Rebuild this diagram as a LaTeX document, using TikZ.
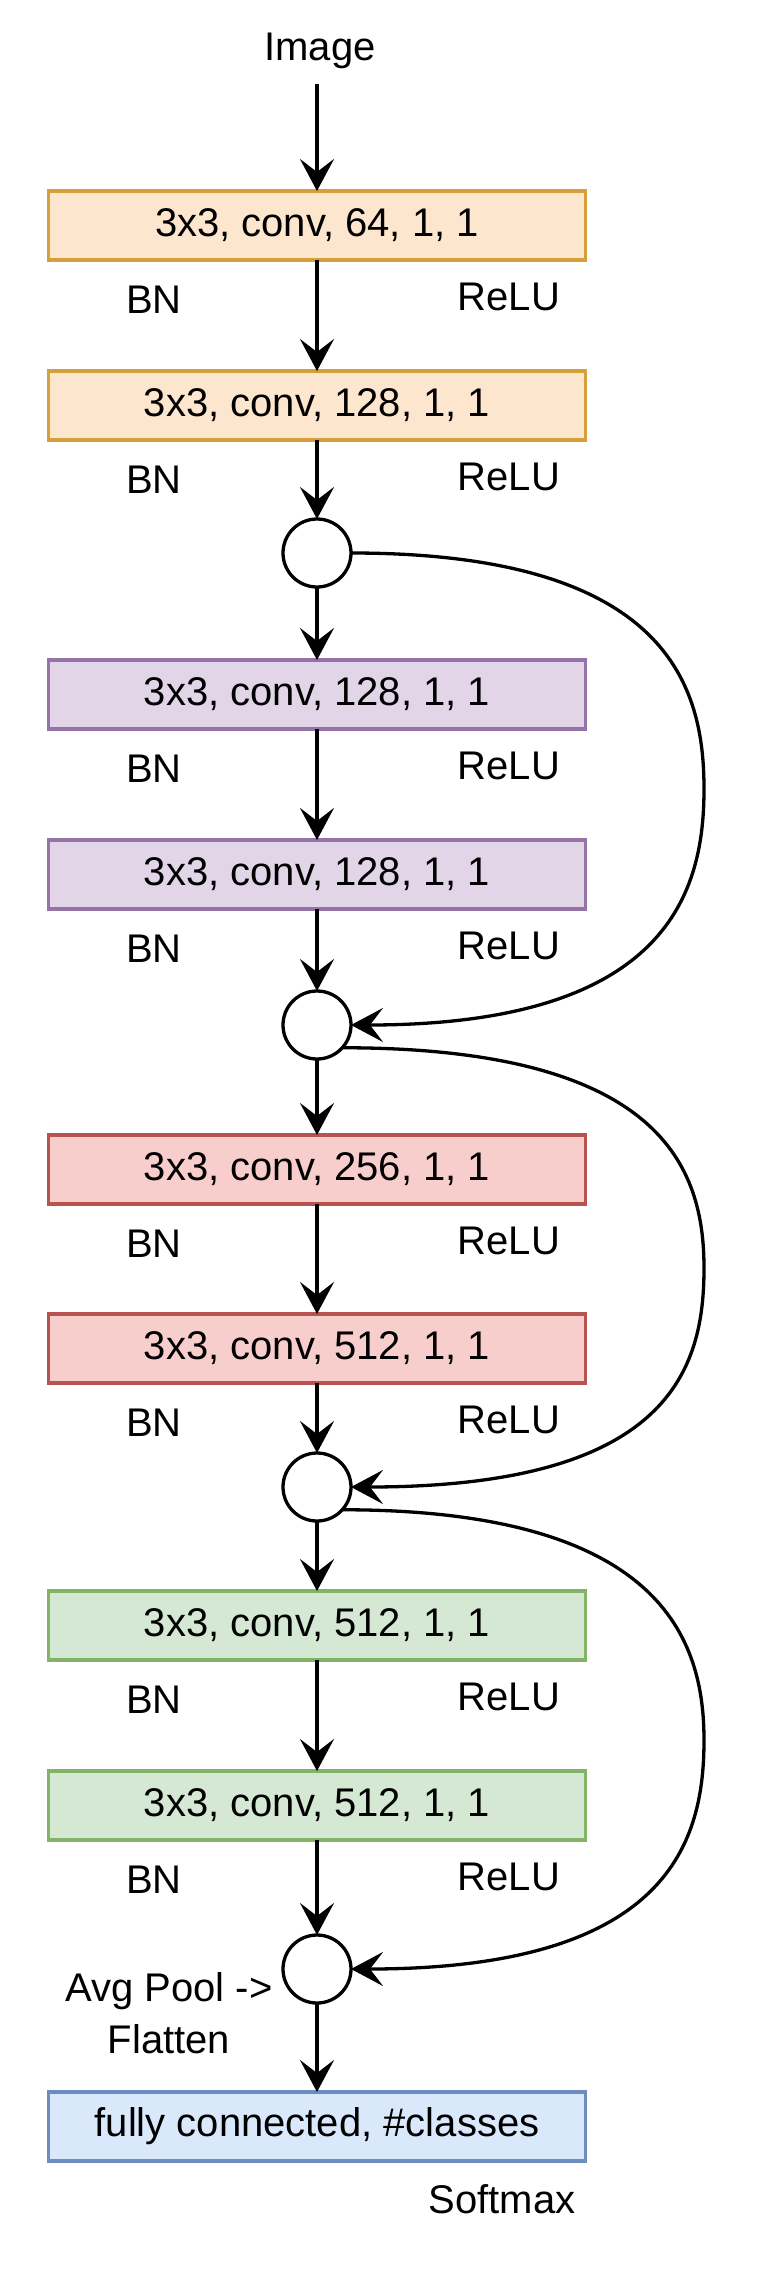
\documentclass[tikz,border=0pt]{standalone}
\usepackage{fontspec}
\setmainfont{Liberation Sans}
\usetikzlibrary{arrows.meta}
\definecolor{orF}{HTML}{FCE6CE}
\definecolor{orS}{HTML}{D5A03C}
\definecolor{puF}{HTML}{E1D5E7}
\definecolor{puS}{HTML}{9673A6}
\definecolor{reF}{HTML}{F8CECC}
\definecolor{reS}{HTML}{B85450}
\definecolor{grF}{HTML}{D5E8D4}
\definecolor{grS}{HTML}{82B366}
\definecolor{blF}{HTML}{DAE8FC}
\definecolor{blS}{HTML}{6C8EBF}
\begin{document}
\begin{tikzpicture}[x=1pt,y=-1pt,
  box/.style={draw, line width=3.3pt, minimum width=537pt, minimum height=69pt, inner sep=0pt, outer sep=0pt, font=\fontsize{40}{48}\selectfont},
  lab/.style={inner sep=0pt, font=\fontsize{40}{48}\selectfont},
  sumnode/.style={draw, circle, line width=3.3pt, minimum size=68pt, inner sep=0pt, outer sep=0pt, fill=white},
  conn/.style={line width=3.3pt, -{Stealth[length=32pt,width=34pt,inset=13pt]}}]
\useasboundingbox (0,0) rectangle (764,2296);

\node[lab, anchor=base] (img) at (320,61) {Image};

\node[box, fill=orF, draw=orS] (b1) at (317,225.5) {3x3, conv, 64, 1, 1};
\node[box, fill=orF, draw=orS] (b2) at (317,405.5) {3x3, conv, 128, 1, 1};
\node[sumnode] (c1) at (317,553) {};
\node[box, fill=puF, draw=puS] (b3) at (317,694.5) {3x3, conv, 128, 1, 1};
\node[box, fill=puF, draw=puS] (b4) at (317,874.5) {3x3, conv, 128, 1, 1};
\node[sumnode] (c2) at (317,1025) {};
\node[box, fill=reF, draw=reS] (b5) at (317,1169.5) {3x3, conv, 256, 1, 1};
\node[box, fill=reF, draw=reS] (b6) at (317,1348.5) {3x3, conv, 512, 1, 1};
\node[sumnode] (c3) at (317,1487) {};
\node[box, fill=grF, draw=grS] (b7) at (317,1625.5) {3x3, conv, 512, 1, 1};
\node[box, fill=grF, draw=grS] (b8) at (317,1805.5) {3x3, conv, 512, 1, 1};
\node[sumnode] (c4) at (317,1969) {};
\node[box, fill=blF, draw=blS] (b9) at (317,2126.5) {fully connected, \#classes};

\node[lab] (bn1) at (154,300) {BN};
\node[lab] (re1) at (509,297) {ReLU};
\node[lab] (bn2) at (154,480) {BN};
\node[lab] (re2) at (509,477) {ReLU};
\node[lab] (bn3) at (154,769) {BN};
\node[lab] (re3) at (509,766) {ReLU};
\node[lab] (bn4) at (154,949) {BN};
\node[lab] (re4) at (509,946) {ReLU};
\node[lab] (bn5) at (154,1244) {BN};
\node[lab] (re5) at (509,1241) {ReLU};
\node[lab] (bn6) at (154,1423) {BN};
\node[lab] (re6) at (509,1420) {ReLU};
\node[lab] (bn7) at (154,1700) {BN};
\node[lab] (re7) at (509,1697) {ReLU};
\node[lab] (bn8) at (154,1880) {BN};
\node[lab] (re8) at (509,1877) {ReLU};
\node[lab, align=center, font=\fontsize{40}{52}\selectfont] (ap) at (169,2013) {Avg Pool ->\\Flatten};
\node[lab] (sm) at (502,2199) {Softmax};

\coordinate (m1) at (704,789);
\coordinate (m2) at (704,1268);
\coordinate (m3) at (704,1740);

\draw[conn, shorten <=15pt] (img.south -| b1.north) -- (b1.north);
\draw[conn] (b1) -- (b2);
\draw[conn] (b2) -- (c1);
\draw[conn] (c1) -- (b3);
\draw[conn] (b3) -- (b4);
\draw[conn] (b4) -- (c2);
\draw[conn] (c2) -- (b5);
\draw[conn] (b5) -- (b6);
\draw[conn] (b6) -- (c3);
\draw[conn] (c3) -- (b7);
\draw[conn] (b7) -- (b8);
\draw[conn] (b8) -- (c4);
\draw[conn] (c4) -- (b9);

\draw[conn] (c1.east) .. controls +(320,0) and +(0,-100) .. (m1) .. controls +(0,100) and +(320,0) .. (c2.east);
\draw[conn] (c2.-42) .. controls +(320,0) and +(0,-100) .. (m2) .. controls +(0,100) and +(320,0) .. (c3.east);
\draw[conn] (c3.-42) .. controls +(320,0) and +(0,-100) .. (m3) .. controls +(0,100) and +(320,0) .. (c4.east);
\end{tikzpicture}
\end{document}
